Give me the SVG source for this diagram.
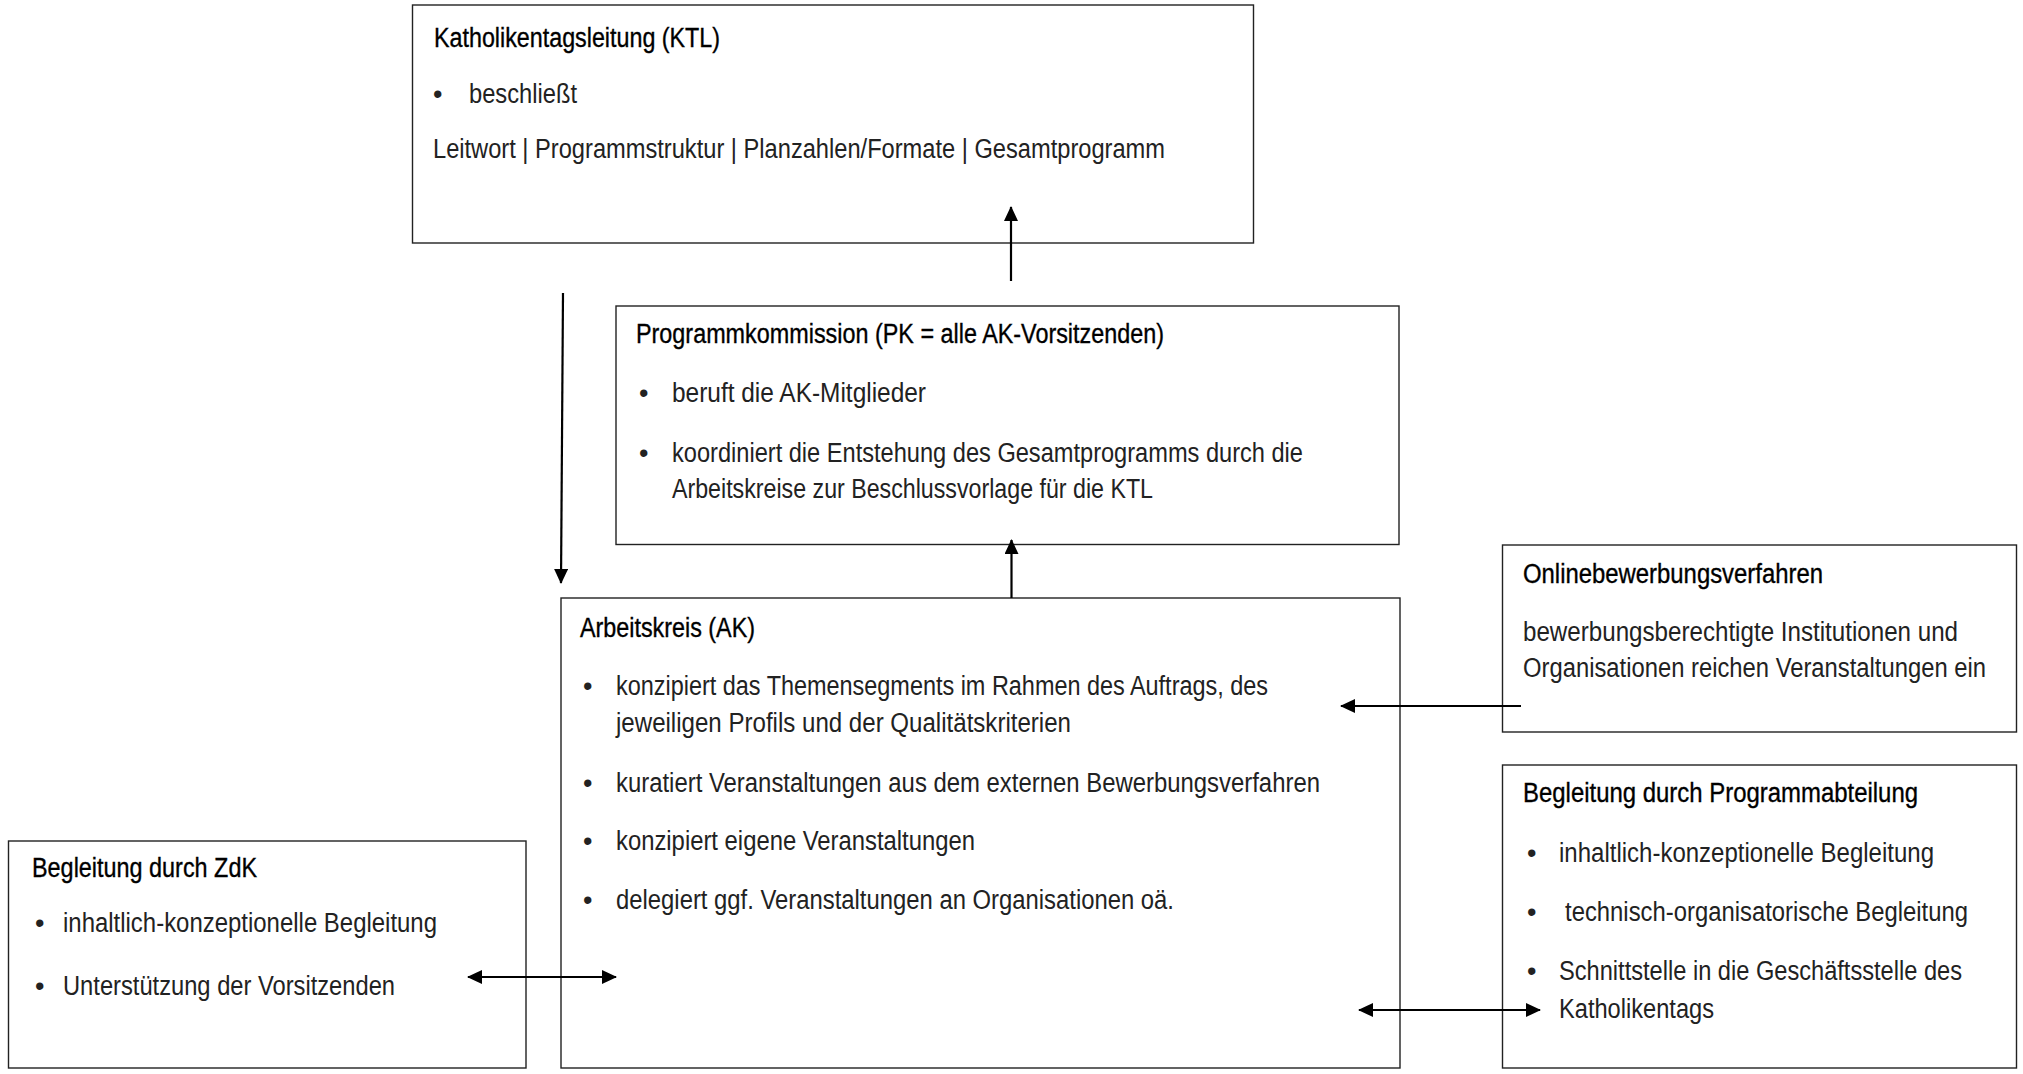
<svg xmlns="http://www.w3.org/2000/svg" width="2023" height="1074" viewBox="0 0 2023 1074">
<style>
.box{fill:#fff;stroke:#222;stroke-width:1.4}
.t{font-family:"Liberation Sans Narrow","Liberation Sans",Arial,sans-serif;font-size:27px;fill:#000;stroke:#000;stroke-width:0.35}
.b{font-family:"Liberation Sans Narrow","Liberation Sans",Arial,sans-serif;font-size:27px;fill:#222}
.c{fill:none;stroke:#000;stroke-width:2.2}
</style>
<defs>
<marker id="ah" viewBox="0 0 15 14" refX="14" refY="7" markerWidth="15" markerHeight="14" markerUnits="userSpaceOnUse" orient="auto-start-reverse">
<path d="M0,0 L15,7 L0,14 Z" fill="#000"/>
</marker>
</defs>
<rect width="2023" height="1074" fill="#fff"/>

<g id="ktl">
<rect class="box" x="412.5" y="5" width="841" height="238"/>
<text class="t" x="434" y="47" textLength="286" lengthAdjust="spacingAndGlyphs">Katholikentagsleitung (KTL)</text>
<text class="b" x="433" y="103">•</text>
<text class="b" x="469" y="103" textLength="108" lengthAdjust="spacingAndGlyphs">beschließt</text>
<text class="b" x="433" y="158" textLength="732" lengthAdjust="spacingAndGlyphs">Leitwort | Programmstruktur | Planzahlen/Formate | Gesamtprogramm</text>
</g>

<g id="pk">
<rect class="box" x="616" y="306" width="783" height="238.5"/>
<text class="t" x="636" y="343" textLength="528" lengthAdjust="spacingAndGlyphs">Programmkommission (PK = alle AK-Vorsitzenden)</text>
<text class="b" x="639" y="402">•</text>
<text class="b" x="672" y="402" textLength="254" lengthAdjust="spacingAndGlyphs">beruft die AK-Mitglieder</text>
<text class="b" x="639" y="462">•</text>
<text class="b" x="672" y="462" textLength="631" lengthAdjust="spacingAndGlyphs">koordiniert die Entstehung des Gesamtprogramms durch die</text>
<text class="b" x="672" y="498" textLength="481" lengthAdjust="spacingAndGlyphs">Arbeitskreise zur Beschlussvorlage für die KTL</text>
</g>

<g id="ak">
<rect class="box" x="561" y="598" width="839" height="470"/>
<text class="t" x="580" y="637" textLength="175" lengthAdjust="spacingAndGlyphs">Arbeitskreis (AK)</text>
<text class="b" x="583" y="695">•</text>
<text class="b" x="616" y="695" textLength="652" lengthAdjust="spacingAndGlyphs">konzipiert das Themensegments im Rahmen des Auftrags, des</text>
<text class="b" x="616" y="732" textLength="455" lengthAdjust="spacingAndGlyphs">jeweiligen Profils und der Qualitätskriterien</text>
<text class="b" x="583" y="792">•</text>
<text class="b" x="616" y="792" textLength="704" lengthAdjust="spacingAndGlyphs">kuratiert Veranstaltungen aus dem externen Bewerbungsverfahren</text>
<text class="b" x="583" y="850">•</text>
<text class="b" x="616" y="850" textLength="359" lengthAdjust="spacingAndGlyphs">konzipiert eigene Veranstaltungen</text>
<text class="b" x="583" y="909">•</text>
<text class="b" x="616" y="909" textLength="558" lengthAdjust="spacingAndGlyphs">delegiert ggf. Veranstaltungen an Organisationen oä.</text>
</g>

<g id="online">
<rect class="box" x="1502.5" y="545" width="514" height="187"/>
<text class="t" x="1523" y="583" textLength="300" lengthAdjust="spacingAndGlyphs">Onlinebewerbungsverfahren</text>
<text class="b" x="1523" y="641" textLength="435" lengthAdjust="spacingAndGlyphs">bewerbungsberechtigte Institutionen und</text>
<text class="b" x="1523" y="677" textLength="463" lengthAdjust="spacingAndGlyphs">Organisationen reichen Veranstaltungen ein</text>
</g>

<g id="programmabteilung">
<rect class="box" x="1502.5" y="765" width="514" height="303"/>
<text class="t" x="1523" y="802" textLength="395" lengthAdjust="spacingAndGlyphs">Begleitung durch Programmabteilung</text>
<text class="b" x="1527" y="862">•</text>
<text class="b" x="1559" y="862" textLength="375" lengthAdjust="spacingAndGlyphs">inhaltlich-konzeptionelle Begleitung</text>
<text class="b" x="1527" y="921">•</text>
<text class="b" x="1565" y="921" textLength="403" lengthAdjust="spacingAndGlyphs">technisch-organisatorische Begleitung</text>
<text class="b" x="1527" y="980">•</text>
<text class="b" x="1559" y="980" textLength="403" lengthAdjust="spacingAndGlyphs">Schnittstelle in die Geschäftsstelle des</text>
<text class="b" x="1559" y="1018" textLength="155" lengthAdjust="spacingAndGlyphs">Katholikentags</text>
</g>

<g id="zdk">
<rect class="box" x="8.5" y="841" width="517.5" height="227"/>
<text class="t" x="32" y="877" textLength="225" lengthAdjust="spacingAndGlyphs">Begleitung durch ZdK</text>
<text class="b" x="35" y="932">•</text>
<text class="b" x="63" y="932" textLength="374" lengthAdjust="spacingAndGlyphs">inhaltlich-konzeptionelle Begleitung</text>
<text class="b" x="35" y="995">•</text>
<text class="b" x="63" y="995" textLength="332" lengthAdjust="spacingAndGlyphs">Unterstützung der Vorsitzenden</text>
</g>

<g id="connectors">
<line class="c" x1="563" y1="293" x2="561" y2="583" marker-end="url(#ah)"/>
<line class="c" x1="1011.5" y1="598" x2="1011.5" y2="540" marker-end="url(#ah)"/>
<line class="c" x1="1011" y1="281" x2="1011" y2="207" marker-end="url(#ah)"/>
<line class="c" x1="1521" y1="706" x2="1341" y2="706" marker-end="url(#ah)"/>
<line class="c" x1="468" y1="977" x2="616" y2="977" marker-start="url(#ah)" marker-end="url(#ah)"/>
<line class="c" x1="1359" y1="1010" x2="1540" y2="1010" marker-start="url(#ah)" marker-end="url(#ah)"/>
</g>
</svg>
